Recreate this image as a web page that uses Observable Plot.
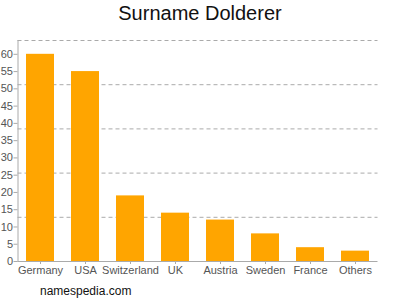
<!DOCTYPE html>
<html>
<head>
<meta charset="utf-8">
<script src="https://cdn.jsdelivr.net/npm/d3@7"></script>
<script src="https://cdn.jsdelivr.net/npm/@observablehq/plot@0.6"></script>
<style>
  html, body { margin: 0; padding: 0; background: #fff; }
  #wrap { position: relative; width: 400px; height: 300px; font-family: "Liberation Sans", Arial, sans-serif; }
  #title { position: absolute; top: 2px; left: 0; width: 400px; text-align: center; font-size: 20px; color: #111; }
  #caption { position: absolute; top: 284px; left: 40px; font-size: 12px; color: #111; }
</style>
</head>
<body>
<div id="wrap">
  <div id="chart"></div>
  <div id="title">Surname Dolderer</div>
  <div id="caption">namespedia.com</div>
</div>
<script>
const countries = ["Germany", "USA", "Switzerland", "UK", "Austria", "Sweden", "France", "Others"];
const counts = [60, 55, 19, 14, 12, 8, 4, 3];
const yTicks = [0, 5, 10, 15, 20, 25, 30, 35, 40, 45, 50, 55, 60];
const gridLevels = [12.8, 25.6, 38.4, 51.2, 64];

const data = countries.map((c, i) => ({country: c, count: counts[i]}));

const chart = Plot.plot({
  width: 400,
  height: 300,
  marginLeft: 17.5,
  marginRight: 22.5,
  marginTop: 40,
  marginBottom: 39,
  style: {fontFamily: "'Liberation Sans', Arial, sans-serif", fontSize: "11px", color: "#555", background: "#fff"},
  x: {domain: countries, paddingInner: 0.38, paddingOuter: 0.19, label: null},
  y: {domain: [0, 64], label: null},
  marks: [
    Plot.ruleY(gridLevels, {stroke: "#aaa", strokeDasharray: "4,3", strokeWidth: 1}),
    Plot.barY(data, {x: "country", y: "count", fill: "#FFA500"}),
    Plot.ruleY([0], {stroke: "#aaa"}),
    Plot.frame({anchor: "left", stroke: "#aaa"}),
    Plot.axisY({ticks: yTicks, tickSize: 4, tickPadding: 1, stroke: "#aaa", fill: "#555", label: null}),
    Plot.axisX({tickSize: 3, tickPadding: 2, stroke: "#aaa", fill: "#555", label: null})
  ]
});
document.getElementById("chart").appendChild(chart);
</script>
</body>
</html>
